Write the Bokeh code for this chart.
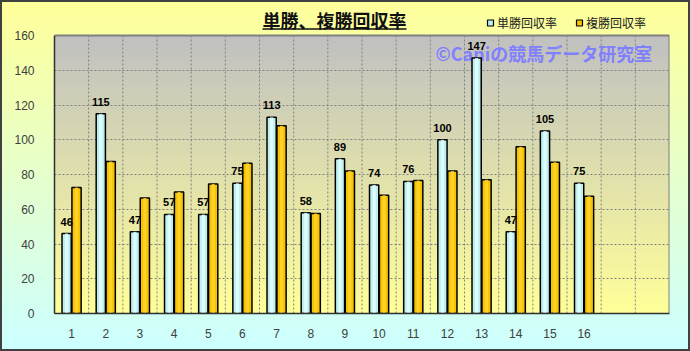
import numpy as np
from bokeh.plotting import figure
from bokeh.models import (ColumnDataSource, FixedTicker, Label, Range1d)
from bokeh.transform import dodge
from bokeh.embed import file_html
from bokeh.resources import INLINE

# ---- data ----
categories = ["1", "2", "3", "4", "5", "6", "7", "8",
              "9", "10", "11", "12", "13", "14", "15", "16"]
win_return = [46, 115, 47, 57, 57, 75, 113, 58, 89, 74, 76, 100, 147, 47, 105, 75]
place_return = [72.5, 87.5, 66.5, 70, 74.5, 86.5, 108, 57.5, 82, 68, 76.5, 82, 77, 96, 87, 67.5]
series_names = ["単勝回収率", "複勝回収率"]
series_colors = ["#BDEFEF", "#F7C300"]
title_text = "単勝、複勝回収率"
watermark_text = "©Caniの競馬データ研究室"
y_ticks = [0, 20, 40, 60, 80, 100, 120, 140, 160]

# ---- layout ----
W, H = 690, 351
FL, FR, FT, FB = 54, 669, 35, 313          # plot-area edges in pixels
NSLOT = 18
XMIN, XMAX = 0.5, NSLOT + 0.5
YMIN, YMAX = 0, 160
UNIT = (FB - FT) / (YMAX - YMIN)           # pixels per y unit
YTOP = YMAX + FT / UNIT                    # frame extends to the top of the canvas


def px2x(px):
    return XMIN + (px - FL) * (XMAX - XMIN) / (FR - FL)


def py2y(py):
    return YMIN + (FB - py) / UNIT


xs = list(range(1, len(categories) + 1))
src = ColumnDataSource(dict(x=xs, win=win_return, place=place_return,
                            win_label=[str(v) for v in win_return]))

p = figure(width=W, height=H, x_range=Range1d(XMIN, XMAX), y_range=Range1d(YMIN, YTOP),
           output_backend="svg", toolbar_location=None, title_location=None,
           min_border_left=FL, min_border_right=W - FR,
           min_border_top=0, min_border_bottom=H - FB)

p.border_fill_alpha = 0
p.background_fill_alpha = 0
p.outline_line_color = None
p.styles = {"background": "linear-gradient(to bottom, #FFFF99 0%, #CCFFFF 100%)",
            "box-shadow": "inset 0 0 0 2px #404040"}

# plot-area gradient (grey top -> pale yellow bottom)
rows = 200
top_c = np.array([192, 192, 192], dtype=float)
bot_c = np.array([255, 255, 153], dtype=float)
img = np.zeros((rows, 2), dtype=np.uint32)
view = img.view(dtype=np.uint8).reshape((rows, 2, 4))
for i in range(rows):
    t = i / (rows - 1)
    c = bot_c * (1 - t) + top_c * t
    view[i, :, 0] = int(round(c[0]))
    view[i, :, 1] = int(round(c[1]))
    view[i, :, 2] = int(round(c[2]))
    view[i, :, 3] = 255
p.image_rgba(image=[img], x=XMIN, y=YMIN, dw=XMAX - XMIN, dh=YMAX - YMIN, level="underlay")

# grids
p.xgrid.visible = False
p.ygrid.ticker = FixedTicker(ticks=y_ticks[1:-1])
p.ygrid.grid_line_color = "#808080"
p.ygrid.grid_line_dash = "2 2"
p.ygrid.grid_line_width = 1
vx = [k + 0.5 for k in range(1, NSLOT)]
p.segment(x0=vx, y0=[YMIN] * len(vx), x1=vx, y1=[YMAX] * len(vx),
          line_color="#808080", line_dash="2 2", line_width=1, level="underlay")

# top and right edges of the plot area
p.segment(x0=[XMIN, XMAX], y0=[YMAX, YMIN], x1=[XMAX, XMAX], y1=[YMAX, YMAX],
          line_color="#808080", line_width=2)

# watermark (under bars)
p.add_layout(Label(x=px2x(435), y=py2y(52), text=watermark_text, text_baseline="middle",
                   text_font="Noto Sans CJK JP", text_font_size="18px",
                   text_font_style="bold", text_color="#8080FF", level="underlay"))

# bars
OFF = 0.145
BW = 0.27
p.vbar(x=dodge("x", -OFF, range=p.x_range), top="win", bottom=0, width=BW, source=src,
       fill_color=series_colors[0], line_color="#000000", line_width=1.5)
p.vbar(x=dodge("x", OFF, range=p.x_range), top="place", bottom=0, width=BW, source=src,
       fill_color=series_colors[1], line_color="#000000", line_width=1.5)
# subtle highlights for a 3D-like look
p.vbar(x=dodge("x", -OFF, range=p.x_range), top="win", bottom=0, width=BW * 0.35, source=src,
       fill_color="#E6FFFF", line_color=None, fill_alpha=0.8)
p.vbar(x=dodge("x", OFF, range=p.x_range), top="place", bottom=0, width=BW * 0.35, source=src,
       fill_color="#FFD633", line_color=None, fill_alpha=0.8)

p.text(x=dodge("x", -OFF, range=p.x_range), y="win", text="win_label", source=src,
       text_align="center", text_baseline="middle", y_offset=-12,
       text_font_size="11px", text_font_style="bold", text_color="#000000",
       text_font={"value": "Liberation Sans"})

# axes
p.xaxis.ticker = FixedTicker(ticks=xs)
p.xaxis.major_label_overrides = {x: c for x, c in zip(xs, categories)}
p.yaxis.ticker = FixedTicker(ticks=y_ticks)
p.yaxis.bounds = (YMIN, YMAX)
for ax in (p.xaxis[0], p.yaxis[0]):
    ax.axis_line_color = "#303030"
    ax.axis_line_width = 1.5
    ax.major_tick_line_color = None
    ax.minor_tick_line_color = None
    ax.major_label_text_font = "Liberation Sans"
    ax.major_label_text_font_size = "12px"
    ax.major_label_text_color = "#404040"
p.yaxis.major_label_standoff = 14
p.xaxis.major_label_standoff = 9

# title with underline
p.add_layout(Label(x=px2x(334), y=py2y(19.5), text=title_text, text_align="center",
                   text_baseline="middle", text_font="Noto Sans CJK JP",
                   text_font_size="18px", text_font_style="bold", text_color="#101010"))
p.segment(x0=[px2x(262)], y0=[py2y(28.5)], x1=[px2x(406)], y1=[py2y(28.5)],
          line_width=1.5, line_color="#101010")

# legend
for i, name in enumerate(series_names):
    mx = [490, 579][i]
    p.rect(x=[px2x(mx)], y=[py2y(22.5)], width=6, height=6,
           width_units="screen", height_units="screen",
           fill_color=series_colors[i], line_color="#000000", line_width=1.2)
    p.add_layout(Label(x=px2x(mx + 6.5), y=py2y(22), text=name, text_baseline="middle",
                       text_font="Noto Sans CJK JP", text_font_size="12px",
                       text_color="#202020"))

open("out.html", "w").write(file_html(p, INLINE))
